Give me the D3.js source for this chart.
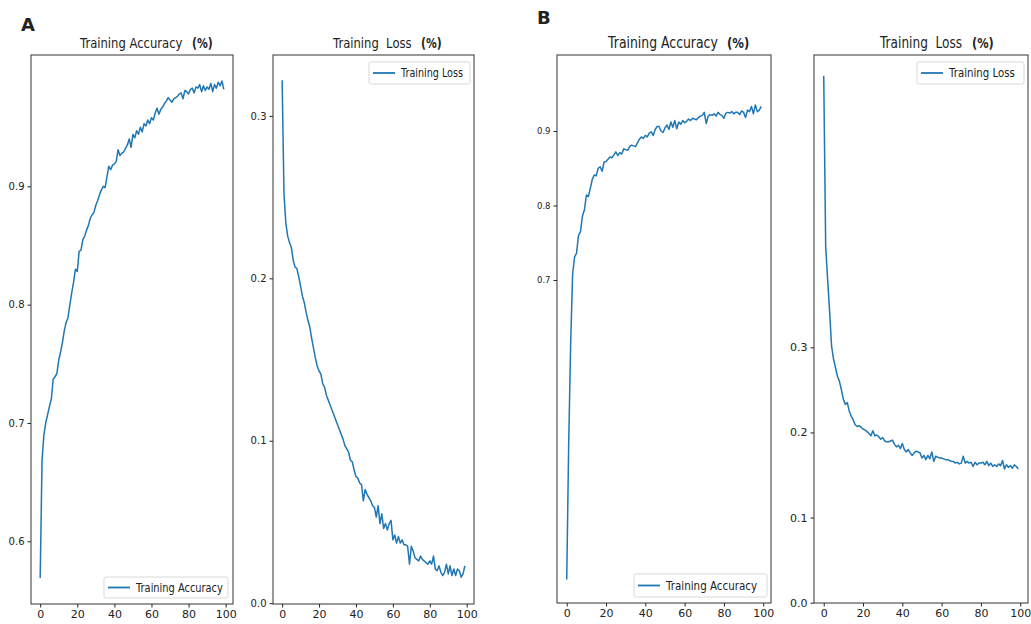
<!DOCTYPE html>
<html>
<head>
<meta charset="utf-8">
<script src="https://cdn.jsdelivr.net/npm/d3@7"></script>
<style>
  body { margin: 0; background: #fff; }
  text { font-family: "DejaVu Sans", sans-serif; fill: #222; }
</style>
</head>
<body>
<div id="viz"></div>
<script>
// epochs 0..99
const epochs = d3.range(0, 100)

const accA = [0.569,0.668,0.690,0.700,0.707,0.714,0.720,0.737,0.739,0.742,
  0.753,0.760,0.768,0.778,0.785,0.789,0.800,0.810,0.819,0.830,
  0.828,0.845,0.846,0.855,0.858,0.863,0.867,0.873,0.876,0.878,
  0.884,0.888,0.893,0.897,0.900,0.899,0.908,0.917,0.914,0.918,
  0.919,0.921,0.931,0.926,0.928,0.929,0.932,0.935,0.940,0.933,
  0.944,0.941,0.947,0.944,0.950,0.946,0.953,0.951,0.956,0.953,
  0.958,0.956,0.962,0.966,0.961,0.965,0.967,0.970,0.972,0.975,
  0.973,0.971,0.974,0.975,0.976,0.978,0.979,0.974,0.981,0.980,
  0.978,0.982,0.983,0.979,0.984,0.983,0.986,0.980,0.985,0.981,
  0.984,0.982,0.987,0.980,0.986,0.983,0.988,0.985,0.989,0.982]

const lossA = [0.322,0.252,0.234,0.226,0.222,0.219,0.211,0.207,0.206,0.201,
  0.195,0.189,0.185,0.179,0.174,0.170,0.163,0.157,0.151,0.146,
  0.143,0.141,0.135,0.133,0.128,0.125,0.122,0.119,0.116,0.113,
  0.110,0.107,0.104,0.101,0.097,0.095,0.093,0.088,0.087,0.082,
  0.078,0.077,0.074,0.073,0.063,0.070,0.067,0.065,0.063,0.060,
  0.059,0.053,0.060,0.049,0.055,0.046,0.049,0.045,0.049,0.051,
  0.039,0.042,0.037,0.041,0.037,0.039,0.036,0.036,0.035,0.024,
  0.035,0.032,0.028,0.027,0.026,0.029,0.027,0.026,0.025,0.024,
  0.026,0.024,0.029,0.021,0.020,0.023,0.019,0.017,0.019,0.024,
  0.018,0.023,0.017,0.021,0.017,0.021,0.020,0.016,0.018,0.023]

const accB = [0.298,0.480,0.615,0.708,0.731,0.736,0.760,0.765,0.786,0.794,
  0.814,0.812,0.823,0.835,0.841,0.840,0.850,0.852,0.846,0.858,
  0.859,0.862,0.865,0.864,0.868,0.872,0.867,0.871,0.869,0.876,
  0.875,0.874,0.879,0.881,0.880,0.879,0.884,0.889,0.892,0.890,
  0.894,0.892,0.897,0.899,0.894,0.902,0.906,0.906,0.900,0.898,
  0.904,0.908,0.902,0.912,0.905,0.914,0.903,0.912,0.909,0.914,
  0.911,0.913,0.916,0.914,0.917,0.916,0.915,0.918,0.920,0.921,
  0.925,0.910,0.920,0.922,0.921,0.923,0.920,0.925,0.922,0.921,
  0.917,0.924,0.925,0.924,0.926,0.923,0.925,0.925,0.922,0.927,
  0.925,0.918,0.928,0.926,0.933,0.923,0.935,0.926,0.928,0.933]

const lossB = [0.619,0.418,0.379,0.342,0.301,0.286,0.276,0.266,0.260,0.250,
  0.239,0.233,0.235,0.225,0.219,0.215,0.209,0.207,0.208,0.206,
  0.204,0.203,0.201,0.199,0.196,0.202,0.196,0.197,0.195,0.192,
  0.194,0.190,0.189,0.189,0.190,0.191,0.186,0.183,0.185,0.181,
  0.187,0.180,0.177,0.180,0.176,0.173,0.176,0.178,0.177,0.176,
  0.170,0.173,0.168,0.173,0.169,0.177,0.166,0.172,0.171,0.170,
  0.170,0.169,0.168,0.168,0.167,0.166,0.166,0.164,0.165,0.163,
  0.164,0.172,0.164,0.166,0.164,0.165,0.160,0.165,0.162,0.164,
  0.164,0.165,0.162,0.166,0.161,0.164,0.160,0.162,0.160,0.163,
  0.161,0.167,0.157,0.162,0.159,0.161,0.158,0.162,0.160,0.157]

const xTicks = [0, 20, 40, 60, 80, 100]
const accATicks = [0.6, 0.7, 0.8, 0.9]
const lossATicks = [0.0, 0.1, 0.2, 0.3]
const accBTicks = [0.7, 0.8, 0.9]
const lossBTicks = [0.0, 0.1, 0.2, 0.3]

const titleAcc = "Training Accuracy"
const titleLoss = "Training  Loss"
const titleUnit = "(%)"

let w = 1031
let h = 624
let lineColor = "#1f77b4"

const svg = d3.select("#viz")
  .append("svg")
  .attr("width", w)
  .attr("height", h)

// panel layout: frame box, y domain, title and legend placement
let panels = [
  { values: accA, ticks: accATicks, yDomain: [0.547, 1.011], box: [31, 55, 233, 604],
    title: titleAcc, tx: 80, ux: 192, tSize: 14.5, tScale: 0.8,
    legend: "Training Accuracy", legendBox: [104, 577, 124, 21], lScale: 0.82, tickFont: 10 },
  { values: lossA, ticks: lossATicks, yDomain: [-0.0005, 0.3375], box: [273, 55, 474, 604],
    title: titleLoss, tx: 333, ux: 421, tSize: 14.5, tScale: 0.8,
    legend: "Training Loss", legendBox: [369, 62, 101, 22], lScale: 0.8, tickFont: 10 },
  { values: accB, ticks: accBTicks, yDomain: [0.2664, 1.002], box: [557, 55, 771, 603],
    title: titleAcc, tx: 608, ux: 727, tSize: 15, tScale: 0.83,
    legend: "Training Accuracy", legendBox: [634, 574, 133, 23], lScale: 0.86, tickFont: 8.5 },
  { values: lossB, ticks: lossBTicks, yDomain: [-0.0004, 0.6435], box: [814, 55, 1028, 603],
    title: titleLoss, tx: 880, ux: 972, tSize: 15, tScale: 0.81,
    legend: "Training Loss", legendBox: [917, 62, 107, 22], lScale: 0.85, tickFont: 11 }
]

panels.forEach(p => {
  let [x0, y0, x1, y1] = p.box
  let g = svg.append("g")

  let xScale = d3.scaleLinear()
    .domain([-4.95, 103.95])
    .range([x0, x1])

  let yScale = d3.scaleLinear()
    .domain(p.yDomain)
    .range([y1, y0])

  // x axis
  let xAxis = g.append("g")
    .attr("transform", `translate(0,${y1})`)
    .call(d3.axisBottom(xScale).tickValues(xTicks).tickSize(3.5).tickPadding(3))
  xAxis.select(".domain").remove()
  xAxis.selectAll("line").attr("stroke", "#222")
  xAxis.selectAll("text").attr("font-size", 11).attr("font-family", "DejaVu Sans").attr("fill", "#222")

  // y axis
  let yAxis = g.append("g")
    .attr("transform", `translate(${x0},0)`)
    .call(d3.axisLeft(yScale).tickValues(p.ticks).tickSize(3.5).tickPadding(3).tickFormat(d3.format(".1f")))
  yAxis.select(".domain").remove()
  yAxis.selectAll("line").attr("stroke", "#222")
  yAxis.selectAll("text").attr("font-size", p.tickFont).attr("font-family", "DejaVu Sans").attr("fill", "#222")

  // the data line
  let line = d3.line()
    .x((d, i) => xScale(epochs[i]))
    .y(d => yScale(d))

  g.append("path")
    .datum(p.values)
    .attr("d", line)
    .attr("fill", "none")
    .attr("stroke", lineColor)
    .attr("stroke-width", 1.5)
    .attr("stroke-linejoin", "round")

  // frame
  g.append("rect")
    .attr("x", x0)
    .attr("y", y0)
    .attr("width", x1 - x0)
    .attr("height", y1 - y0)
    .attr("fill", "none")
    .attr("stroke", "#333")
    .attr("stroke-width", 1)

  // title, one text element squeezed horizontally like the source figure
  let title = g.append("text")
    .attr("transform", `translate(${p.tx},48) scale(${p.tScale},1)`)
    .attr("font-size", p.tSize)
    .style("white-space", "pre")
  title.append("tspan")
    .text(p.title)
  title.append("tspan")
    .attr("x", (p.ux - p.tx) / p.tScale)
    .attr("font-weight", "bold")
    .attr("font-size", p.tSize - 1)
    .text(titleUnit)

  // legend
  let [lx, ly, lw, lh] = p.legendBox
  g.append("rect")
    .attr("x", lx)
    .attr("y", ly)
    .attr("width", lw)
    .attr("height", lh)
    .attr("rx", 2)
    .attr("fill", "white")
    .attr("fill-opacity", 0.85)
    .attr("stroke", "#d9d9d9")
  g.append("line")
    .attr("x1", lx + 4)
    .attr("x2", lx + 26)
    .attr("y1", ly + lh / 2)
    .attr("y2", ly + lh / 2)
    .attr("stroke", lineColor)
    .attr("stroke-width", 1.8)
  g.append("text")
    .attr("transform", `translate(${lx + 32},${ly + lh / 2 + 4}) scale(${p.lScale},1)`)
    .attr("font-size", 12)
    .text(p.legend)
})

// panel letters
svg.append("text")
  .attr("x", 21)
  .attr("y", 31)
  .attr("font-size", 18)
  .attr("font-weight", "bold")
  .attr("fill", "#000")
  .text("A")

svg.append("text")
  .attr("x", 537)
  .attr("y", 24)
  .attr("font-size", 18)
  .attr("font-weight", "bold")
  .attr("fill", "#000")
  .text("B")
</script>
</body>
</html>
